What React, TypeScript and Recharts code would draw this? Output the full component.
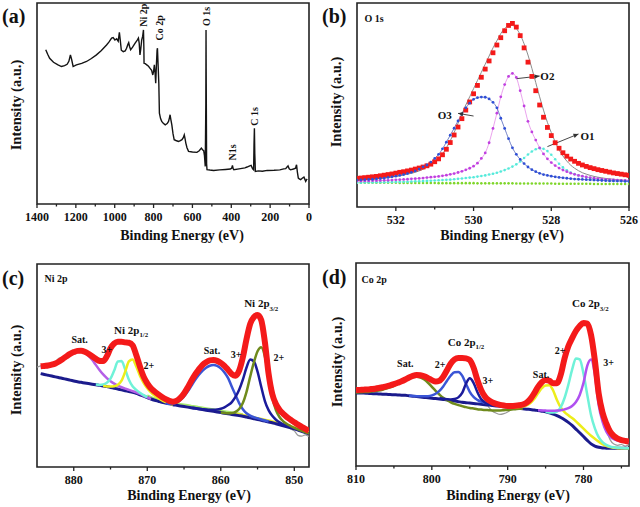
import React from 'react';
import { ComposedChart, Line, XAxis, YAxis, ReferenceArea, Scatter } from 'recharts';

const FONT = '"Liberation Serif", "Times New Roman", serif';

// ---------- Panel (a) survey ----------
const surveyEnergy = [1355,1345,1335,1315,1292,1274,1258,1245,1236,1228,1222,1214,1205,1197,1170,1145,1120,1094,1070,1042,1030,1016,1008,999,990,982,976,972,966,956,946,939,932,928,924,918,908,895,884,878,874,870,866,861,856,852,850,849,843,835,826,818,810,804,800,796,792,789,785,782,780,777,773,770,764,758,750,740,730,723,718,715,711,706,700,694,685,672,662,654,647,642,638,634,628,620,600,577,565,554,548,542,538,534,531,530,529,527,525,510,491,460,430,405,398,394,390,387,360,330,319,305,298,290,285,283,281,279,276,260,240,215,180,150,130,120,112,108,102,95,80,69,66,64,60,55,50,43,35,26,20,17,13,9];
const surveyCounts = [76.7,74.5,72.5,70.5,69.2,68.4,68.8,69.5,71,74.2,72,68.4,68.8,69.2,70,70.9,72.4,74.2,76.2,79.1,80.5,82.5,82.8,81.6,82.2,81,85.4,82,76.5,75.8,76.2,77.5,79.5,80.3,78.5,76.7,78,80,81.5,82.5,80,74.2,77,81.6,83.5,86.6,78,70,69.8,69.2,68.5,67.5,66.5,64.2,66,69.2,65,60.1,70,76.5,77.5,70,60.1,45.2,42.5,41.1,40.2,39.4,40,41.1,43,44.4,42,39.4,35,32,31.6,31.1,31.5,32,33,34.4,32.5,30.3,28,26.2,25.9,25.7,26.5,27.8,27,26.5,24,18.7,50,86.6,60,20,17.1,16.9,16.7,17,17.2,17.4,17.8,19.2,17.5,17.1,17.5,18,18.4,19,19.2,17.5,17,30,37.7,25,16.2,16.5,16.3,16.7,16.8,17,17.5,17.6,18.5,19,17.5,17,17.4,17.8,19,19.5,16,12.9,12.5,12.1,12.8,13.4,12,11.3,12,12.4];
const surveyTicks = [1400,1300,1200,1100,1000,900,800,700,600,500,400,300,200,100,0];
const surveyMajor = [1400,1200,1000,800,600,400,200,0];
const surveyNotes = [
  { x: 852, y: 88.2, t: 'Ni 2p', rot: -90 },
  { x: 770, y: 81.3, t: 'Co 2p', rot: -90 },
  { x: 529, y: 88.6, t: 'O 1s', rot: -90 },
  { x: 393, y: 21.7, t: 'N1s', rot: -90 },
  { x: 281, y: 38.9, t: 'C 1s', rot: -90 },
];

// ---------- Panel (b) O 1s ----------
const o1sEnergy = [533.0,532.9,532.8,532.7,532.6,532.5,532.4,532.3,532.2,532.1,532.0,531.9,531.8,531.7,531.6,531.5,531.4,531.3,531.2,531.1,531.0,530.9,530.8,530.7,530.6,530.5,530.4,530.3,530.2,530.1,530.0,529.9,529.8,529.7,529.6,529.5,529.4,529.3,529.2,529.1,529.0,528.9,528.8,528.7,528.6,528.5,528.4,528.3,528.2,528.1,528.0,527.9,527.8,527.7,527.6,527.5,527.4,527.3,527.2,527.1,527.0,526.9,526.8,526.7,526.6,526.5,526.4,526.3,526.2,526.1,526.0];
const o1sRaw = [14.0,14.2,14.4,14.6,14.8,15.0,15.3,15.6,15.9,16.2,16.6,17.0,17.3,17.7,18.1,18.6,19.1,19.6,20.2,21.0,22.2,23.6,25.6,28.3,31.6,35.3,39.2,43.3,47.5,51.5,55.5,59.6,63.6,67.6,71.6,75.6,79.4,83.0,86.4,89.0,90.0,88.2,84.0,78.0,71.0,64.0,57.0,50.0,44.0,39.0,35.0,31.5,28.8,26.6,24.9,23.5,22.4,21.4,20.6,19.9,19.3,18.8,18.3,17.9,17.5,17.1,16.7,16.4,16.1,15.8,15.5];
const o1sFit = [13.2,13.3,13.4,13.5,13.6,13.8,14.0,14.2,14.4,14.7,15.0,15.3,15.7,16.1,16.5,17.0,17.7,18.5,19.5,20.7,22.0,23.8,26.0,29.0,32.5,36.5,41.0,45.5,50.0,54.0,58.0,62.0,66.0,70.0,74.0,78.0,81.5,85.0,87.5,89.0,89.0,87.5,84.5,80.0,74.5,68.0,61.0,54.0,47.5,41.5,36.5,32.0,28.0,25.0,22.5,20.5,19.0,17.8,16.8,16.1,15.5,15.0,14.6,14.3,14.0,13.8,13.6,13.4,13.2,13.1,13.0];
const o1sO3 = [13.2,13.3,13.4,13.5,13.6,13.8,14.0,14.2,14.5,14.8,15.1,15.5,15.9,16.4,17.0,17.7,18.6,19.7,20.6,22.0,23.8,25.8,28.5,31.8,35.2,38.6,42.2,45.6,48.6,50.9,52.8,53.6,53.9,53.8,53.0,51.3,48.6,43.5,38.5,33.5,29.0,25.8,23.3,21.3,19.6,18.3,17.3,16.5,15.9,15.5,15.1,14.8,14.5,14.3,14.1,13.9,13.7,13.6,13.5,13.4,13.3,13.2,13.1,13.0,12.9,12.8,12.8,12.7,12.7,12.6,12.6];
const o1sO2 = [12.7,12.7,12.8,12.8,12.9,12.9,13.0,13.1,13.1,13.2,13.3,13.4,13.5,13.6,13.8,13.9,14.0,14.2,14.4,14.6,14.8,15.0,15.3,15.6,16.0,16.4,16.9,17.5,18.2,19.0,20.0,21.5,23.8,26.5,31.5,38.5,46.0,54.0,60.0,64.0,65.5,63.5,57.0,49.5,42.0,36.8,32.8,29.0,26.0,23.6,21.8,20.3,19.1,18.1,17.3,16.6,16.0,15.5,15.1,14.7,14.4,14.1,13.9,13.7,13.5,13.4,13.3,13.2,13.1,13.0,12.9];
const o1sO1 = [11.9,11.9,12.0,12.0,12.0,12.1,12.1,12.1,12.2,12.2,12.3,12.3,12.4,12.4,12.5,12.6,12.6,12.7,12.8,12.9,13.0,13.1,13.2,13.3,13.4,13.6,13.8,14.0,14.2,14.4,14.6,14.9,15.2,15.5,15.9,16.3,16.8,17.4,18.1,18.9,19.8,20.9,22.3,24.0,25.7,27.2,28.3,28.8,28.5,27.4,25.6,23.4,21.2,19.4,18.0,16.9,16.1,15.5,15.0,14.6,14.2,13.9,13.7,13.5,13.3,13.1,13.0,12.9,12.8,12.7,12.6];
const o1sBase = [11.9,11.9,11.9,11.9,11.9,11.9,11.9,11.9,11.9,11.9,11.9,11.8,11.8,11.8,11.8,11.8,11.8,11.8,11.8,11.8,11.8,11.7,11.7,11.7,11.7,11.7,11.7,11.7,11.7,11.7,11.7,11.6,11.6,11.6,11.6,11.6,11.6,11.6,11.6,11.6,11.6,11.5,11.5,11.5,11.5,11.5,11.5,11.5,11.5,11.5,11.5,11.4,11.4,11.4,11.4,11.4,11.4,11.4,11.4,11.4,11.4,11.3,11.3,11.3,11.3,11.3,11.3,11.3,11.3,11.3,11.3];
const o1sTicks = [532,531,530,529,528,527,526];
const o1sMajor = [532,530,528,526];
const o1sNotes = [
  { x: 532.56, y: 92.5, t: 'O 1s' },
  { x: 530.74, y: 45.1, t: 'O3', size: 11 },
  { x: 528.1, y: 63.9, t: 'O2', size: 11 },
  { x: 527.07, y: 34.8, t: 'O1', size: 11 },
];
const arrowO3 = [{ x: 530.0, y: 44.6 }, { x: 530.4, y: 45.9, head: 188 }];
const arrowO2 = [{ x: 528.9, y: 62.9 }, { x: 528.3, y: 64.2, head: -7 }];
const arrowO1 = [{ x: 528.1, y: 29.6 }, { x: 527.3, y: 35.8, head: -22 }];

// ---------- Panel (c) Ni 2p ----------
const ni2pEnergy = [885,884.5,884,883.5,883,882.5,882,881.5,881,880.5,880,879.5,879,878.5,878,877.5,877,876.5,876,875.5,875,874.5,874,873.5,873,872.5,872,871.5,871,870.5,870,869.5,869,868.5,868,867.5,867,866.5,866,865.5,865,864.5,864,863.5,863,862.5,862,861.5,861,860.5,860,859.5,859,858.5,858,857.5,857,856.5,856,855.5,855,854.5,854,853.5,853,852.5,852,851.5,851,850.5,850,849.5,849,848.5,848];
const N = null;
const ni2pRaw = [49.2,49.8,50.4,50.2,51.0,51.8,53.6,53.8,54.2,56.0,56.4,57.6,57.0,56.6,56.0,54.2,54.0,53.6,53.2,54.8,58.0,61.2,61.4,62.0,61.0,61.6,59.6,55.8,49.0,44.8,40.6,38.2,37.6,35.2,34.0,33.0,31.6,31.8,33.2,34.6,36.0,39.6,42.0,45.8,48.4,50.0,51.8,52.2,53.0,52.0,51.6,49.4,48.2,45.4,45.4,47.0,54.4,62.6,70.8,73.4,75.2,72.0,61.0,45.0,34.4,29.0,25.0,22.4,21.0,18.8,17.8,15.6,15.2,15.8,15.0];
const ni2pEnvelope = [N,49.6,49.8,50.0,50.4,51.0,52.0,53.2,54.5,55.7,56.6,57.2,57.3,56.8,55.8,54.6,53.3,52.2,52.2,54.5,58.5,60.8,61.7,61.7,61.4,61.2,60.0,55.2,49.5,44.5,41.2,38.8,37.2,35.8,34.5,33.4,32.6,32.2,32.6,34.0,36.2,39.2,42.5,45.5,48.0,50.2,51.6,52.5,52.7,52.3,51.3,49.8,47.8,45.8,45.0,47.5,54.0,63.0,70.5,73.8,74.9,72.4,61.5,46.0,36.0,31.0,28.1,26.2,24.6,23.3,22.0,20.9,19.8,18.8,17.8];
const ni2pBackground = [N,46.0,45.6,45.2,44.8,44.4,44.0,43.6,43.2,42.8,42.4,42.0,41.7,41.4,41.1,40.8,40.5,40.2,39.9,39.6,39.2,38.8,38.4,38.0,37.6,37.2,36.8,36.3,35.6,34.9,34.2,33.5,32.9,32.4,31.9,31.5,31.1,30.7,30.4,30.1,29.8,29.5,29.2,28.9,28.6,28.3,28.0,27.7,27.4,27.1,26.8,26.5,26.2,25.9,25.6,25.3,25.0,24.6,24.2,23.8,23.4,23.0,22.6,22.2,21.8,21.3,20.8,20.3,19.8,19.3,18.8,18.2,17.6,17.0,16.4];
const ni2pSat1 = [N,49.0,49.2,49.4,49.8,50.4,51.4,52.6,53.9,55.1,56.0,56.6,56.8,56.2,54.8,52.8,50.3,47.8,45.6,43.8,42.3,41.1,40.1,39.3,38.6,38.0,37.4,36.8,36.0,35.1,34.3,33.5,N,N,N,N,N,N,N,N,N,N,N,N,N,N,N,N,N,N,N,N,N,N,N,N,N,N,N,N,N,N,N,N,N,N,N,N,N,N,N,N,N,N,N];
const ni2pP12Ni3 = [N,N,N,N,N,N,N,N,N,N,N,N,N,N,N,N,40.6,40.4,40.6,41.5,43.5,47.5,52.0,52.2,48.0,43.0,39.8,38.0,36.6,35.4,34.4,N,N,N,N,N,N,N,N,N,N,N,N,N,N,N,N,N,N,N,N,N,N,N,N,N,N,N,N,N,N,N,N,N,N,N,N,N,N,N,N,N,N,N,N];
const ni2pP12Ni2 = [N,N,N,N,N,N,N,N,N,N,N,N,N,N,N,N,N,N,39.9,39.7,39.6,39.8,40.5,42.5,47.0,52.0,53.0,49.5,45.0,41.5,38.8,36.8,35.2,33.9,32.8,32.0,31.3,30.8,N,N,N,N,N,N,N,N,N,N,N,N,N,N,N,N,N,N,N,N,N,N,N,N,N,N,N,N,N,N,N,N,N,N,N,N,N];
const ni2pSat2 = [N,N,N,N,N,N,N,N,N,N,N,N,N,N,N,N,N,N,N,N,N,N,N,N,N,N,N,N,N,N,N,N,N,N,N,31.5,31.1,31.2,31.8,33.0,34.8,37.2,40.0,42.8,45.3,47.4,48.9,49.9,50.2,49.8,48.6,46.6,43.8,39.5,35.5,31.5,28.5,26.5,25.3,24.5,24.0,23.4,22.9,22.4,N,N,N,N,N,N,N,N,N,N,N];
const ni2pP32Ni3 = [N,N,N,N,N,N,N,N,N,N,N,N,N,N,N,N,N,N,N,N,N,N,N,N,N,N,N,N,N,N,N,N,N,N,N,N,N,N,N,N,N,N,29.2,28.9,28.7,28.5,28.3,28.2,28.2,28.3,28.7,29.4,30.5,32.0,34.5,38.0,43.0,49.0,53.0,52.0,47.0,39.5,32.5,28.0,25.2,23.3,22.0,21.0,20.2,19.5,18.9,18.3,17.7,17.1,16.5];
const ni2pP32Ni2 = [N,N,N,N,N,N,N,N,N,N,N,N,N,N,N,N,N,N,N,N,N,N,N,N,N,N,N,N,N,N,N,N,N,N,N,N,N,N,N,N,N,N,N,N,N,N,N,N,N,N,26.8,26.6,26.5,26.6,27.2,28.6,31.5,37.0,44.5,51.5,57.0,59.0,54.5,44.5,34.5,28.0,24.5,22.5,21.2,20.2,19.3,18.5,17.8,17.1,16.4];
const ni2pGreen = [N,N,N,N,N,N,N,N,N,N,N,N,N,N,N,N,N,N,N,N,N,N,N,N,N,N,N,N,N,N,35.2,34.5,33.9,33.4,32.9,32.5,32.1,31.7,31.4,31.1,30.8,30.5,30.2,29.9,29.6,29.3,29.0,28.7,28.4,28.1,27.8,27.5,27.2,26.9,26.6,26.3,26.0,N,N,N,N,N,N,N,N,N,N,N,N,N,N,N,N,N,N];
const ni2pYellowTail = [N,N,N,N,N,N,N,N,N,N,N,N,N,N,N,N,N,N,N,N,N,N,N,N,N,N,N,N,N,N,N,N,N,N,N,N,N,N,N,N,N,N,N,N,N,N,N,N,N,N,N,N,N,N,26.4,26.1,25.8,25.4,25.0,24.6,24.2,23.8,23.4,23.0,22.6,22.1,21.6,21.1,20.6,20.1,19.6,19.0,18.4,17.8,17.2];
const ni2pTicks = [880,875,870,865,860,855,850];
const ni2pMajor = [880,870,860,850];
const ni2pNotes = [
  { x: 882.4, y: 92.9, t: 'Ni 2p' },
  { x: 879.2, y: 62.6, t: 'Sat.' },
  { x: 875.5, y: 58.1, t: '3+' },
  { x: 872.2, y: 67.5, t: 'Ni 2p', sub: '1/2', size: 11 },
  { x: 869.8, y: 50.2, t: '2+' },
  { x: 861.2, y: 57.6, t: 'Sat.' },
  { x: 857.9, y: 55.2, t: '3+' },
  { x: 854.5, y: 80.6, t: 'Ni 2p', sub: '3/2', size: 11 },
  { x: 852.1, y: 54.0, t: '2+' },
];

// ---------- Panel (d) Co 2p ----------
const co2pEnergy = [810,809.5,809,808.5,808,807.5,807,806.5,806,805.5,805,804.5,804,803.5,803,802.5,802,801.5,801,800.5,800,799.5,799,798.5,798,797.5,797,796.5,796,795.5,795,794.5,794,793.5,793,792.5,792,791.5,791,790.5,790,789.5,789,788.5,788,787.5,787,786.5,786,785.5,785,784.5,784,783.5,783,782.5,782,781.5,781,780.5,780,779.5,779,778.5,778,777.5,777,776.5,776,775.5,775,774.5,774];
const co2pRaw = [36.8,37.8,37.2,38.0,37.6,38.4,38.2,39.2,39.0,40.0,40.6,40.8,42.0,42.4,43.8,44.8,44.4,45.0,44.0,43.6,42.0,41.8,41.6,44.4,47.0,50.8,52.2,53.6,53.0,53.4,51.8,48.8,42.0,36.0,32.0,29.0,27.0,26.0,25.4,25.8,26.6,27.8,28.6,29.4,30.8,32.4,33.4,36.0,38.6,41.6,42.0,42.4,41.2,41.0,45.4,52.6,59.4,62.6,66.8,68.8,70.8,70.0,64.8,51.6,35.0,25.0,18.0,13.0,10.8,10.2,10.6,9.8,10.4];
const co2pEnvelope = [37.4,37.5,37.6,37.7,37.9,38.1,38.4,38.8,39.2,39.7,40.3,41.0,41.7,42.6,43.6,44.4,44.8,44.7,44.2,43.3,42.3,41.6,42.0,44.0,47.2,50.5,52.5,53.2,53.2,53.0,52.2,48.5,42.5,37.5,34.2,32.4,31.3,30.6,30.1,29.8,29.6,29.6,29.7,29.9,30.3,31.2,33.0,35.8,39.0,41.3,42.4,42.0,40.8,40.8,45.0,53.0,59.0,63.0,66.5,69.0,70.5,70.2,64.5,52.0,35.8,26.5,21.0,17.0,14.8,13.5,12.8,12.4,12.0];
const co2pBackground = [36.0,35.9,35.9,35.8,35.7,35.6,35.5,35.4,35.3,35.2,35.1,35.0,34.9,34.8,34.6,34.4,34.2,34.0,33.8,33.6,33.4,33.2,33.0,32.8,32.6,32.3,32.0,31.7,31.4,31.2,31.0,30.8,30.6,30.4,30.2,30.0,29.8,29.6,29.4,29.2,29.0,28.8,28.6,28.4,28.2,28.0,27.8,27.6,27.3,27.0,26.7,26.2,25.6,24.8,23.9,22.8,21.5,20.0,18.2,16.4,14.5,12.6,10.9,9.8,9.2,8.9,8.8,8.7,8.7,8.7,8.7,8.7,8.7];
const co2pSat1 = [36.2,36.3,36.4,36.5,36.7,36.9,37.2,37.6,38.1,38.7,39.5,40.4,41.3,42.3,43.2,43.8,44.0,43.6,42.6,41.0,39.0,37.0,35.2,33.6,32.4,31.4,30.6,30.0,29.5,29.0,28.6,28.3,28.0,27.8,27.6,27.5,27.4,27.4,27.4,27.5,27.6,27.8,28.0,28.2,28.2,N,N,N,N,N,N,N,N,N,N,N,N,N,N,N,N,N,N,N,N,N,N,N,N,N,N,N,N];
const co2pP12Co2 = [N,N,N,N,N,N,N,N,N,N,N,N,N,N,34.6,34.5,34.4,34.3,34.3,34.4,34.8,35.6,37.0,39.2,42.0,44.6,46.2,46.3,44.5,40.5,36.5,34.0,32.6,31.7,31.1,30.6,30.2,29.9,N,N,N,N,N,N,N,N,N,N,N,N,N,N,N,N,N,N,N,N,N,N,N,N,N,N,N,N,N,N,N,N,N,N,N];
const co2pP12Co3 = [N,N,N,N,N,N,N,N,N,N,N,N,N,N,N,N,N,N,N,N,N,N,33.4,33.1,32.9,32.8,33.0,33.8,36.0,40.5,43.2,41.0,36.5,33.0,31.3,30.4,30.0,29.7,N,N,N,N,N,N,N,N,N,N,N,N,N,N,N,N,N,N,N,N,N,N,N,N,N,N,N,N,N,N,N,N,N,N,N];
const co2pSat2 = [N,N,N,N,N,N,N,N,N,N,N,N,N,N,N,N,N,N,N,N,N,N,N,N,N,N,N,N,N,N,N,N,N,N,N,N,N,N,N,N,29.0,28.9,28.9,29.0,29.3,29.9,31.0,33.0,35.8,38.3,39.7,39.8,37.2,32.5,28.8,26.6,25.0,23.6,22.0,20.2,18.4,16.6,14.9,13.4,12.0,10.8,9.9,9.3,9.0,8.8,8.8,8.7,8.7];
const co2pP32Co2 = [N,N,N,N,N,N,N,N,N,N,N,N,N,N,N,N,N,N,N,N,N,N,N,N,N,N,N,N,N,N,N,N,N,N,N,N,N,N,N,N,N,N,N,N,N,N,N,N,N,N,26.7,26.4,26.3,26.8,29.0,33.5,40.0,47.5,53.0,52.5,45.5,35.0,25.0,18.5,14.2,11.8,10.4,9.6,9.2,9.0,8.9,8.8,8.8];
const co2pP32Co3 = [N,N,N,N,N,N,N,N,N,N,N,N,N,N,N,N,N,N,N,N,N,N,N,N,N,N,N,N,N,N,N,N,N,N,N,N,N,N,N,N,N,N,N,N,N,N,N,N,27.5,27.4,27.3,27.2,27.2,27.3,27.5,27.9,28.5,29.6,31.5,35.0,41.0,49.5,52.5,45.0,30.0,22.0,17.0,14.5,13.2,12.5,12.1,11.9,11.8];
const co2pTicks = [810,805,800,795,790,785,780,775];
const co2pMajor = [810,800,790,780];
const co2pNotes = [
  { x: 807.6, y: 92.1, t: 'Co 2p' },
  { x: 803.5, y: 50.6, t: 'Sat.' },
  { x: 798.9, y: 49.8, t: '2+' },
  { x: 795.5, y: 61.2, t: 'Co 2p', sub: '1/2', size: 11 },
  { x: 792.6, y: 42.0, t: '3+' },
  { x: 785.6, y: 45.3, t: 'Sat.' },
  { x: 783.1, y: 57.1, t: '2+' },
  { x: 779.1, y: 80.1, t: 'Co 2p', sub: '3/2', size: 11 },
  { x: 776.7, y: 50.9, t: '3+' },
];

// ---------- helpers ----------
type Spec = {
  key: string;
  values: (number | null)[];
  stroke: string;
  width?: number;
  dot?: any;
  curve?: any;
};

const buildRows = (xs: number[], specs: Spec[], extra: { key: string; pts: any[] }[] = []) =>
  xs.map((x, i) => {
    const row: any = { x };
    specs.forEach((s) => {
      const v = s.values[i];
      if (v !== null && v !== undefined) row[s.key] = v;
    });
    extra.forEach((e) => {
      const p = e.pts.find((q) => Math.abs(q.x - x) < 1e-6);
      if (p) row[e.key] = p.y;
    });
    return row;
  });

const makeTick = (majors: number[]) => (props: any) => {
  const { x, y, payload } = props;
  const v = payload?.value;
  const major = majors.includes(v);
  return (
    <g>
      <line x1={x} x2={x} y1={y} y2={y + (major ? 4 : 2.5)} stroke="#222" strokeWidth={1.3} />
      {major && (
        <text x={x} y={y + 17} textAnchor="middle" fontFamily={FONT} fontWeight={700} fontSize={12} fill="#111">
          {v}
        </text>
      )}
    </g>
  );
};

const noteShape = (p: any) => {
  const { cx, cy, payload } = p;
  if (cx == null || cy == null || !payload) return <g />;
  const size = payload.size ?? 10;
  const common = { fontFamily: FONT, fontWeight: 700, fontSize: size, fill: '#111' };
  if (payload.rot) {
    return (
      <text x={cx} y={cy} transform={`rotate(${payload.rot} ${cx} ${cy})`} textAnchor="start" dy="0.35em" {...common}>
        {payload.t}
      </text>
    );
  }
  return (
    <text x={cx} y={cy} textAnchor="middle" dy="0.35em" {...common}>
      {payload.t}
      {payload.sub && (
        <tspan fontSize={size * 0.62} dy={size * 0.3}>
          {payload.sub}
        </tspan>
      )}
    </text>
  );
};

const arrowDot = (pts: any[]) => (p: any) => {
  const { cx, cy, payload, index } = p;
  if (cx == null || cy == null) return <g key={index} />;
  const head = pts.find((q) => q.head !== undefined && Math.abs(q.x - payload.x) < 1e-6);
  if (!head) return <g key={index} />;
  return (
    <polygon
      key={index}
      points="0,0 -5,-2.2 -5,2.2"
      transform={`translate(${cx} ${cy}) rotate(${head.head})`}
      fill="#333"
    />
  );
};

const squareDot = (color: string, s: number) => (p: any) => {
  const { cx, cy, index } = p;
  if (cx == null || cy == null) return <g key={index} />;
  return <rect key={index} x={cx - s / 2} y={cy - s / 2} width={s} height={s} fill={color} />;
};

type PanelProps = {
  left: number;
  top: number;
  width: number;
  height: number;
  margin: { top: number; right: number; bottom: number; left: number };
  domain: [number, number];
  ticks: number[];
  majors: number[];
  rows: any[];
  specs: Spec[];
  notes: any[];
  extraLines?: React.ReactNode[];
};

const Panel = ({ left, top, width, height, margin, domain, ticks, majors, rows, specs, notes, extraLines }: PanelProps) => (
  <div style={{ position: 'absolute', left, top }}>
    <ComposedChart width={width} height={height} data={rows} margin={margin}>
      <XAxis
        dataKey="x"
        type="number"
        domain={domain}
        reversed
        ticks={ticks}
        interval={0}
        tick={makeTick(majors)}
        tickLine={false}
        axisLine={false}
        tickSize={0}
        tickMargin={0}
        height={1}
        allowDataOverflow
      />
      <YAxis type="number" domain={[0, 100]} hide allowDataOverflow />
      {specs.map((s) => (
        <Line
          key={s.key}
          dataKey={s.key}
          type={s.curve ?? 'monotone'}
          stroke={s.stroke}
          strokeWidth={s.width ?? 1}
          dot={s.dot ?? false}
          activeDot={false}
          connectNulls
          isAnimationActive={false}
        />
      ))}
      {extraLines}
      <ReferenceArea x1={domain[0]} x2={domain[1]} y1={0} y2={100} fill="none" stroke="#222" strokeWidth={1.6} />
      <Scatter data={notes} dataKey="y" shape={noteShape} isAnimationActive={false} />
    </ComposedChart>
  </div>
);

// ---------- panel specs ----------
const specsA: Spec[] = [{ key: 'survey', values: surveyCounts, stroke: '#141414', width: 1.4, curve: 'linear' }];
const rowsA = buildRows(surveyEnergy, specsA);

const specsB: Spec[] = [
  { key: 'raw', values: o1sRaw, stroke: 'none', dot: squareDot('#f41a1a', 4.8) },
  { key: 'fit', values: o1sFit, stroke: '#8c8c8c', width: 1 },
  { key: 'base', values: o1sBase, stroke: 'none', dot: { r: 1.3, fill: '#7fd62a', stroke: 'none' } },
  { key: 'o1', values: o1sO1, stroke: '#8ff2e6', width: 0.6, dot: { r: 1.3, fill: '#55eadb', stroke: 'none' } },
  { key: 'o2', values: o1sO2, stroke: '#e58ae8', width: 0.8, dot: { r: 1.4, fill: '#c040e0', stroke: 'none' } },
  { key: 'o3', values: o1sO3, stroke: '#3a4fb0', width: 0.7, dot: { r: 1.4, fill: '#2f4fd6', stroke: 'none' } },
];
const arrowsB = [
  { key: 'arrowO3', pts: arrowO3 },
  { key: 'arrowO2', pts: arrowO2 },
  { key: 'arrowO1', pts: arrowO1 },
];
const rowsB = buildRows(o1sEnergy, specsB, arrowsB);
const arrowLinesB = arrowsB.map((a) => (
  <Line
    key={a.key}
    dataKey={a.key}
    type="linear"
    stroke="#333"
    strokeWidth={0.9}
    dot={arrowDot(a.pts)}
    activeDot={false}
    connectNulls
    isAnimationActive={false}
  />
));

const specsC: Spec[] = [
  { key: 'raw', values: ni2pRaw, stroke: '#9a9a9a', width: 1.2 },
  { key: 'green', values: ni2pGreen, stroke: '#a6e86c', width: 2 },
  { key: 'ytail', values: ni2pYellowTail, stroke: '#eaea2a', width: 2 },
  { key: 'bg', values: ni2pBackground, stroke: '#1b1b8c', width: 3 },
  { key: 'sat1', values: ni2pSat1, stroke: '#b45fe6', width: 2.5 },
  { key: 'p12n3', values: ni2pP12Ni3, stroke: '#6ff2d8', width: 2.5 },
  { key: 'p12n2', values: ni2pP12Ni2, stroke: '#eded1a', width: 2.5 },
  { key: 'sat2', values: ni2pSat2, stroke: '#3a55d6', width: 2.5 },
  { key: 'p32n3', values: ni2pP32Ni3, stroke: '#1b1b9a', width: 2.5 },
  { key: 'p32n2', values: ni2pP32Ni2, stroke: '#6f8a1c', width: 2.5 },
  { key: 'env', values: ni2pEnvelope, stroke: '#f41a1a', width: 6 },
];
const rowsC = buildRows(ni2pEnergy, specsC);

const specsD: Spec[] = [
  { key: 'raw', values: co2pRaw, stroke: '#9a9a9a', width: 1.2 },
  { key: 'bg', values: co2pBackground, stroke: '#1b1b8c', width: 3 },
  { key: 'sat1', values: co2pSat1, stroke: '#6f8a1c', width: 2.5 },
  { key: 'p12c2', values: co2pP12Co2, stroke: '#3a55d6', width: 2.5 },
  { key: 'p12c3', values: co2pP12Co3, stroke: '#1b1b9a', width: 2.5 },
  { key: 'sat2', values: co2pSat2, stroke: '#eded1a', width: 2.5 },
  { key: 'p32c2', values: co2pP32Co2, stroke: '#6ff2d8', width: 2.5 },
  { key: 'p32c3', values: co2pP32Co3, stroke: '#b050f0', width: 2.5 },
  { key: 'env', values: co2pEnvelope, stroke: '#f41a1a', width: 6 },
];
const rowsD = buildRows(co2pEnergy, specsD);

const titleStyle = { fontFamily: FONT, fontWeight: 700, fill: '#111' } as const;

export default function App() {
  return (
    <div style={{ position: 'absolute', left: 0, top: 0, width: 640, height: 507, background: '#fff', overflow: 'hidden' }}>
      <Panel
        left={0}
        top={0}
        width={320}
        height={250}
        margin={{ top: 3, right: 11, bottom: 45, left: 37 }}
        domain={[0, 1400]}
        ticks={surveyTicks}
        majors={surveyMajor}
        rows={rowsA}
        specs={specsA}
        notes={surveyNotes}
      />
      <Panel
        left={320}
        top={0}
        width={320}
        height={250}
        margin={{ top: 3, right: 11, bottom: 42, left: 37 }}
        domain={[526, 533]}
        ticks={o1sTicks}
        majors={o1sMajor}
        rows={rowsB}
        specs={specsB}
        notes={o1sNotes}
        extraLines={arrowLinesB}
      />
      <Panel
        left={0}
        top={250}
        width={320}
        height={257}
        margin={{ top: 14, right: 11, bottom: 39, left: 37 }}
        domain={[848, 885]}
        ticks={ni2pTicks}
        majors={ni2pMajor}
        rows={rowsC}
        specs={specsC}
        notes={ni2pNotes}
      />
      <Panel
        left={320}
        top={250}
        width={320}
        height={257}
        margin={{ top: 13, right: 11, bottom: 40, left: 36 }}
        domain={[774, 810]}
        ticks={co2pTicks}
        majors={co2pMajor}
        rows={rowsD}
        specs={specsD}
        notes={co2pNotes}
      />
      <svg width={640} height={507} style={{ position: 'absolute', left: 0, top: 0, pointerEvents: 'none' }}>
        <text x={2} y={23} fontSize={20} {...titleStyle}>(a)</text>
        <text x={322} y={23} fontSize={20} {...titleStyle}>(b)</text>
        <text x={2} y={285} fontSize={20} {...titleStyle}>(c)</text>
        <text x={322} y={284} fontSize={20} {...titleStyle}>(d)</text>
        <text x={182} y={240} fontSize={14} textAnchor="middle" {...titleStyle}>Binding Energy (eV)</text>
        <text x={502} y={240} fontSize={14} textAnchor="middle" {...titleStyle}>Binding Energy (eV)</text>
        <text x={189} y={500} fontSize={14} textAnchor="middle" {...titleStyle}>Binding Energy (eV)</text>
        <text x={508} y={500} fontSize={14} textAnchor="middle" {...titleStyle}>Binding Energy (eV)</text>
        <text x={16} y={105} fontSize={14.5} textAnchor="middle" dy="0.35em" transform="rotate(-90 16 105)" {...titleStyle}>Intensity (a.u.)</text>
        <text x={336} y={102} fontSize={14.5} textAnchor="middle" dy="0.35em" transform="rotate(-90 336 102)" {...titleStyle}>Intensity (a.u.)</text>
        <text x={16} y={370} fontSize={14.5} textAnchor="middle" dy="0.35em" transform="rotate(-90 16 370)" {...titleStyle}>Intensity (a.u.)</text>
        <text x={337} y={362} fontSize={14.5} textAnchor="middle" dy="0.35em" transform="rotate(-90 337 362)" {...titleStyle}>Intensity (a.u.)</text>
      </svg>
    </div>
  );
}
